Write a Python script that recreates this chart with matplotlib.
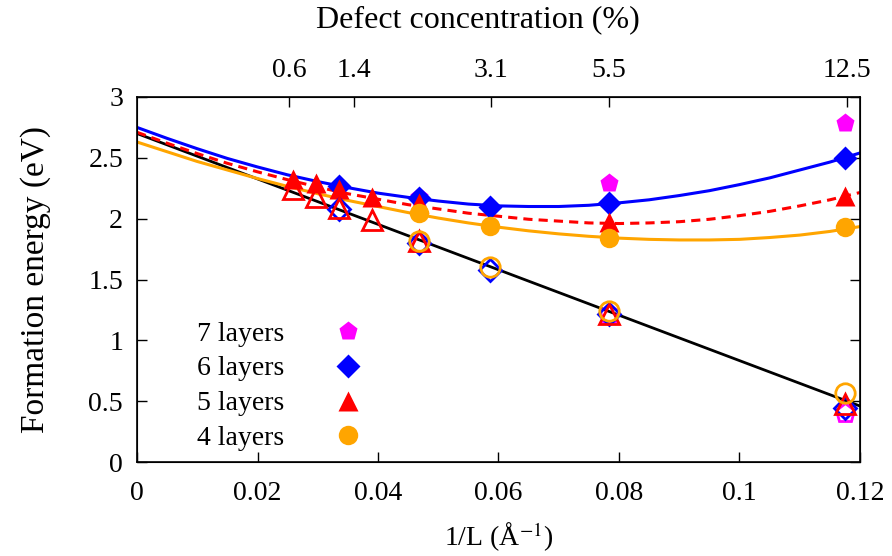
import numpy as np
import matplotlib.pyplot as plt

plt.rcParams['font.family'] = ['Liberation Serif', 'DejaVu Serif']
plt.rcParams['mathtext.fontset'] = 'stix'
plt.rcParams['font.size'] = 20

# filled symbols: one series per slab thickness
x7 = [0.0468, 0.0783, 0.1175]
y7 = [2.18, 2.29, 2.79]
x6 = [0.0335, 0.0468, 0.0586, 0.0783, 0.1175]
y6 = [2.27, 2.17, 2.10, 2.13, 2.50]
x5 = [0.0259, 0.0297, 0.0335, 0.0390, 0.0468, 0.0783, 0.1175]
y5 = [2.33, 2.29, 2.24, 2.18, 2.13, 1.97, 2.19]
x4 = [0.0468, 0.0586, 0.0783, 0.1175]
y4 = [2.05, 1.94, 1.84, 1.93]

# open symbols (lie on the black line)
x7o = [0.0468, 0.0783, 0.1175]
y7o = [1.80, 1.22, 0.40]
x6o = [0.0335, 0.0468, 0.0586, 0.0783, 0.1175]
y6o = [2.08, 1.80, 1.58, 1.22, 0.44]
x5o = [0.0259, 0.0297, 0.0335, 0.0390, 0.0468, 0.0783, 0.1175]
y5o = [2.24, 2.18, 2.09, 1.99, 1.82, 1.22, 0.48]
x4o = [0.0468, 0.0586, 0.0783, 0.1175]
y4o = [1.82, 1.60, 1.24, 0.57]

# fitted curves, every 0.005
xc = np.linspace(0, 0.12, 25)
fit6 = [2.75, 2.66, 2.575, 2.495, 2.425, 2.36, 2.305, 2.255, 2.21, 2.175, 2.145, 2.12, 2.105,
        2.10, 2.10, 2.11, 2.13, 2.155, 2.19, 2.23, 2.28, 2.335, 2.40, 2.465, 2.54]
fit5 = [2.71, 2.62, 2.535, 2.455, 2.385, 2.32, 2.26, 2.205, 2.16, 2.115, 2.08, 2.045, 2.02,
        1.995, 1.98, 1.965, 1.96, 1.965, 1.975, 1.995, 2.025, 2.06, 2.105, 2.155, 2.215]
fit4 = [2.63, 2.55, 2.47, 2.40, 2.33, 2.265, 2.205, 2.15, 2.10, 2.05, 2.005, 1.965, 1.93,
        1.90, 1.875, 1.855, 1.84, 1.83, 1.825, 1.825, 1.83, 1.845, 1.865, 1.895, 1.935]
xline = [0.0, 0.12]
yline = [2.70, 0.46]

top_pos = [0.0252, 0.0360, 0.0588, 0.0783, 0.1178]
top_lab = ['0.6', '1.4', '3.1', '5.5', '12.5']

fig = plt.figure(figsize=(8.92, 5.56), dpi=100)
ax = fig.add_axes([137/892, 1-462/556, 723/892, 365/556])

ax.plot(xline, yline, color='black', lw=2)
ax.plot(xc, fit6, color='blue', lw=2.2)
ax.plot(xc, fit5, color='red', lw=2.2, ls=(0, (3, 2)))
ax.plot(xc, fit4, color='orange', lw=2.2)

ax.plot(x7, y7, 'p', color='magenta', ms=14, mec='none', label='7 layers')
ax.plot(x6, y6, 'D', color='blue', ms=12, mec='none', label='6 layers')
ax.plot(x5, y5, '^', color='red', ms=15, mec='none', label='5 layers')
ax.plot(x4, y4, 'o', color='orange', ms=14, mec='none', label='4 layers')

ax.plot(x7o, y7o, 'p', mfc='none', mec='magenta', ms=14, mew=2)
ax.plot(x6o, y6o, 'D', mfc='none', mec='blue', ms=11, mew=2)
ax.plot(x5o, y5o, '^', mfc='none', mec='red', ms=14, mew=2)
ax.plot(x4o, y4o, 'o', mfc='none', mec='orange', ms=14, mew=2)

ax.set_xlim(0, 0.12)
ax.set_ylim(0, 3)
ax.set_xticks([0, 0.02, 0.04, 0.06, 0.08, 0.1, 0.12])
ax.set_xticklabels(['0', '0.02', '0.04', '0.06', '0.08', '0.1', '0.12'])
ax.set_yticks([0, 0.5, 1, 1.5, 2, 2.5, 3])
ax.set_yticklabels(['0', '0.5', '1', '1.5', '2', '2.5', '3'])
ax.tick_params(direction='in', length=7, width=1, right=True, top=False)
ax.tick_params(axis='x', pad=14)
ax.tick_params(axis='y', pad=10)
ax.set_xlabel(r'1/L (Å$^{-1}$)', labelpad=10)
ax.set_ylabel('Formation energy (eV)', fontsize=24, labelpad=27)
for s in ax.spines.values():
    s.set_linewidth(1.2)

ax2 = ax.twiny()
ax2.set_xlim(0, 0.12)
ax2.set_xticks(top_pos)
ax2.set_xticklabels(top_lab)
ax2.tick_params(direction='in', length=7, width=1, pad=10)
ax2.set_xlabel('Defect concentration (%)', fontsize=23, labelpad=22)
ax2.xaxis.label.set_x(0.472)

leg = ax.legend(loc='upper left', bbox_to_anchor=(0.083, 0.386), frameon=False,
                markerfirst=False, handlelength=1.0, handletextpad=1.8,
                labelspacing=0.34, borderpad=0, borderaxespad=0)

fig.savefig('out.png', dpi=100)
